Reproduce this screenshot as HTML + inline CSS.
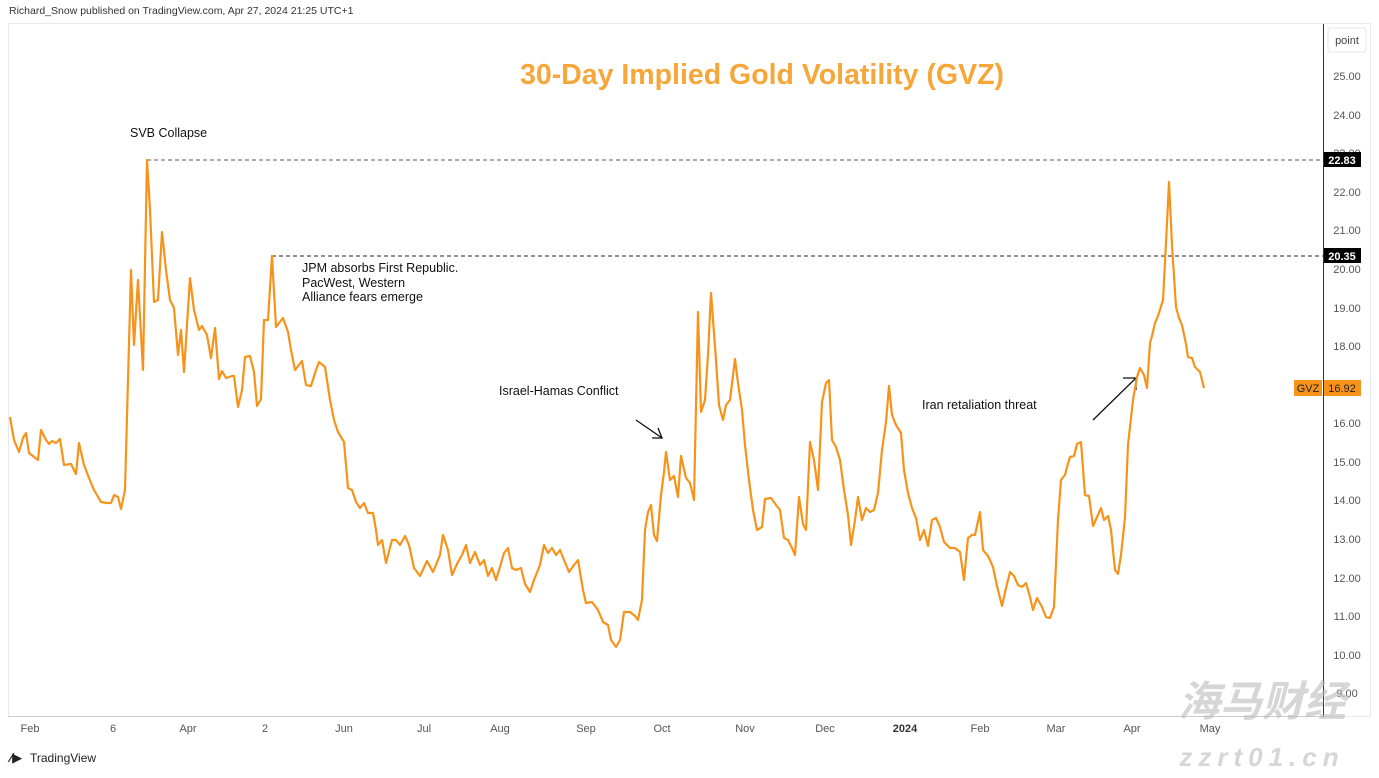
<!DOCTYPE html>
<html><head><meta charset="utf-8"><style>
body{margin:0;background:#fff;font-family:"Liberation Sans","Noto Sans CJK SC",sans-serif;}
svg text{font-family:"Liberation Sans","DejaVu Sans",sans-serif;}
</style></head><body>
<svg width="1379" height="773" viewBox="0 0 1379 773" xmlns="http://www.w3.org/2000/svg">
<rect width="1379" height="773" fill="#fff"/>
<text x="9" y="14" font-size="10.5" fill="#333">Richard_Snow published on TradingView.com, Apr 27, 2024 21:25 UTC+1</text>
<rect x="8.5" y="23.5" width="1362" height="693" fill="none" stroke="#e6e8ee"/>
<line x1="1323.5" y1="24" x2="1323.5" y2="717" stroke="#333"/>
<line x1="8" y1="716.5" x2="1323" y2="716.5" stroke="#ccc"/>
<rect x="1328" y="28" width="38" height="24" rx="3" fill="#fff" stroke="#e3e5ea"/>
<text x="1347" y="44" font-size="11" fill="#444" text-anchor="middle">point</text>
<g font-size="11" fill="#555" text-anchor="middle">
<text x="1347" y="80">25.00</text><text x="1347" y="119">24.00</text><text x="1347" y="157">23.00</text>
<text x="1347" y="196">22.00</text><text x="1347" y="234">21.00</text><text x="1347" y="273">20.00</text>
<text x="1347" y="312">19.00</text><text x="1347" y="350">18.00</text><text x="1347" y="427">16.00</text>
<text x="1347" y="466">15.00</text><text x="1347" y="504">14.00</text><text x="1347" y="543">13.00</text>
<text x="1347" y="582">12.00</text><text x="1347" y="620">11.00</text><text x="1347" y="659">10.00</text>
<text x="1347" y="697">9.00</text>
</g>
<rect x="1324" y="152" width="37" height="15" fill="#000"/><text x="1342" y="164" font-size="11" fill="#fff" text-anchor="middle" font-weight="bold">22.83</text>
<rect x="1324" y="248" width="37" height="15" fill="#000"/><text x="1342" y="260" font-size="11" fill="#fff" text-anchor="middle" font-weight="bold">20.35</text>
<rect x="1294" y="380" width="28" height="16" fill="#f7931a"/><text x="1308" y="392" font-size="11" fill="#222" text-anchor="middle">GVZ</text>
<rect x="1324" y="380" width="37" height="16" fill="#f7931a"/><text x="1342" y="392" font-size="11" fill="#222" text-anchor="middle">16.92</text>
<line x1="147" y1="160" x2="1323" y2="160" stroke="#555" stroke-dasharray="4,3"/>
<line x1="272" y1="256" x2="1323" y2="256" stroke="#222" stroke-dasharray="4,3"/>
<text x="762" y="84" font-size="28.5" font-weight="bold" fill="#f7a63a" text-anchor="middle" textLength="484" lengthAdjust="spacingAndGlyphs">30-Day Implied Gold Volatility (GVZ)</text>
<g font-size="12.5" fill="#111" style="font-family:'DejaVu Sans',sans-serif">
<text x="130" y="137">SVB Collapse</text>
<text x="302" y="272">JPM absorbs First Republic.</text>
<text x="302" y="287">PacWest, Western</text>
<text x="302" y="301">Alliance fears emerge</text>
<text x="499" y="395">Israel-Hamas Conflict</text>
<text x="922" y="409">Iran retaliation threat</text>
</g>
<g stroke="#111" stroke-width="1.3" fill="none">
<line x1="636" y1="420" x2="662" y2="438"/><polyline points="652,438 662,438 658,428"/>
<line x1="1093" y1="420" x2="1136" y2="378"/><polyline points="1123,378 1136,378 1136,390"/>
</g>
<polyline fill="none" stroke="#f7931a" stroke-width="2.2" stroke-linejoin="round" points="10,417 14,440 19,452 23,438 26,433 29,453 38,460 41,430 46,440 49,444 52,441 56,443 60,439 64,465 71,464 76,474 79,443 84,465 89,478 94,490 101,502 107,503 111,503 114,495 118,497 121,509 125,490 131,270 134,345 138,280 143,370 147,160 150,210 154,302 158,300 162,232 166,270 170,300 174,308 178,355 181,330 184,372 190,278 194,310 199,330 202,326 207,335 211,358 215,328 219,379 222,371 226,378 232,376 234,376 238,407 242,390 245,357 250,356 254,372 257,406 261,399 264,320 268,320 272,256 276,327 283,318 288,332 291,350 295,370 302,361 306,385 311,386 316,370 319,362 325,367 330,400 334,420 338,432 344,442 348,488 352,490 356,502 360,508 364,503 368,513 373,513 376,530 378,545 382,540 386,563 392,540 396,540 400,545 405,536 409,545 414,568 420,576 427,561 433,572 440,555 443,535 448,550 452,575 458,562 462,555 466,545 470,563 475,552 480,565 484,560 488,576 492,568 496,580 500,567 504,553 508,548 512,568 516,570 521,568 525,584 530,592 534,580 540,565 544,545 548,553 552,548 556,555 560,550 564,560 569,572 574,565 578,560 583,590 586,603 592,602 598,610 603,622 608,625 611,640 616,647 620,640 624,612 630,612 635,616 638,620 642,600 645,530 648,512 651,505 654,535 657,541 661,495 664,472 666,452 670,480 674,476 678,497 681,456 686,478 690,483 694,500 698,312 701,412 705,400 708,355 711,293 716,360 719,405 723,420 726,405 730,400 735,359 738,383 742,410 745,445 749,480 753,510 757,530 762,527 765,499 771,498 776,505 780,510 784,538 788,540 792,548 795,555 799,497 803,524 806,530 810,442 814,460 818,490 822,402 826,383 829,380 832,440 836,447 840,460 844,490 848,515 851,545 855,520 858,497 862,520 866,508 870,512 874,510 878,493 882,450 886,422 889,386 892,415 896,425 901,433 904,470 908,493 912,508 916,518 920,540 924,530 928,546 932,520 936,518 940,527 944,542 950,548 955,548 960,552 964,580 968,538 972,535 975,535 980,512 983,550 988,556 993,567 997,586 1002,606 1006,588 1010,572 1014,576 1018,585 1022,587 1026,583 1030,597 1033,610 1037,598 1042,607 1046,617 1050,618 1054,607 1058,520 1061,480 1065,475 1067,467 1070,457 1074,456 1077,444 1081,442 1085,495 1089,496 1093,526 1097,517 1101,508 1104,520 1108,516 1111,530 1115,570 1118,574 1121,555 1125,517 1128,445 1133,400 1137,377 1140,368 1144,375 1147,388 1150,343 1152,336 1155,323 1158,316 1163,300 1166,243 1169,182 1172,245 1176,307 1179,318 1182,325 1186,344 1188,357 1192,358 1195,367 1200,372 1204,388"/>
<g font-size="11" fill="#555" text-anchor="middle">
<text x="30" y="732">Feb</text><text x="113" y="732">6</text><text x="188" y="732">Apr</text><text x="265" y="732">2</text>
<text x="344" y="732">Jun</text><text x="424" y="732">Jul</text><text x="500" y="732">Aug</text><text x="586" y="732">Sep</text>
<text x="662" y="732">Oct</text><text x="745" y="732">Nov</text><text x="825" y="732">Dec</text><text x="905" y="732" font-weight="bold" fill="#333">2024</text>
<text x="980" y="732">Feb</text><text x="1056" y="732">Mar</text><text x="1132" y="732">Apr</text><text x="1210" y="732">May</text>
</g>
<text x="10" y="762" font-size="13" font-weight="bold" fill="#222">⁄▶</text>
<text x="30" y="762" font-size="12" fill="#222">TradingView</text>
<text x="1262" y="716" font-size="42" font-weight="bold" fill="#bbb" opacity="0.6" text-anchor="middle" font-style="italic" style="font-family:'Noto Sans CJK SC',sans-serif">海马财经</text>
<text x="1262" y="766" font-size="26" font-weight="bold" fill="#bbb" opacity="0.6" text-anchor="middle" font-style="italic" letter-spacing="6">zzrt01.cn</text>
</svg>
</body></html>
